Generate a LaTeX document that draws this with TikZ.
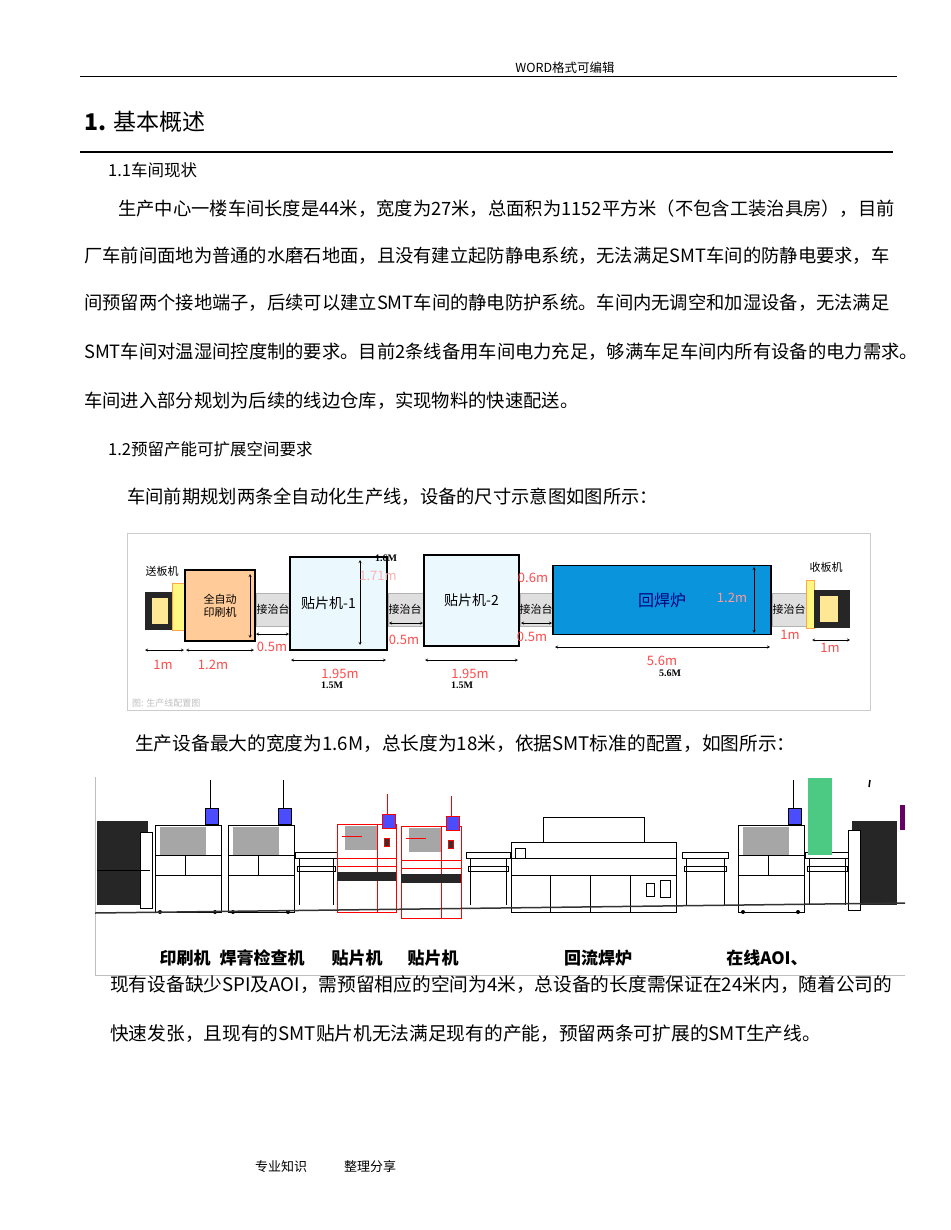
\documentclass[tikz,border=0pt]{standalone}
\usepackage{fontspec}
\setmainfont{Liberation Serif}
\newfontfamily\cjk{Noto Sans CJK SC}
\tikzset{
 body/.style={anchor=west,inner sep=0pt,font=\cjk\fontsize{18.3}{18}\selectfont},
 body2/.style={anchor=west,inner sep=0pt,font=\cjk\fontsize{18.7}{18}\selectfont},
 conv/.style={fill=gray!25,draw=gray!60},
 dim/.style={<->,>=stealth,thin},
 rd/.style={text=red!70,inner sep=0pt,font=\cjk\fontsize{13}{13}\selectfont},
 bk/.style={inner sep=0pt,font=\bfseries\fontsize{10}{10}\selectfont},
 mach/.style={draw=black,fill=white,line width=0.8pt},
 rmach/.style={draw=red,fill=white,line width=0.8pt},
 lab/.style={inner sep=0pt,font=\cjk\bfseries\fontsize{17}{17}\selectfont},
}
\begin{document}
\begin{tikzpicture}[x=1pt,y=-1pt]
\useasboundingbox[fill=white] (0,0) rectangle (950,1230);
% header
\node[inner sep=0pt,font=\cjk\fontsize{12.5}{12}\selectfont] (hdr) at (565,68) {WORD格式可编辑};
\draw[thin] (80,76) -- (897,76);
\node[anchor=west,inner sep=0pt,font=\cjk\fontsize{23}{23}\selectfont] (t1) at (84,122) {\textbf{1.} 基本概述};
\draw[line width=2pt] (80,152) -- (893,152);
\node[anchor=west,inner sep=0pt,font=\cjk\fontsize{16.5}{16}\selectfont] (s11) at (108,170) {1.1车间现状};
\node[body] (p1) at (118,209) {生产中心一楼车间长度是44米，宽度为27米，总面积为1152平方米（不包含工装治具房），目前};
\node[body] (p2) at (84,256) {厂车前间面地为普通的水磨石地面，且没有建立起防静电系统，无法满足SMT车间的防静电要求，车};
\node[body] (p3) at (84,303) {间预留两个接地端子，后续可以建立SMT车间的静电防护系统。车间内无调空和加湿设备，无法满足};
\node[body] (p4) at (84,352) {SMT车间对温湿间控度制的要求。目前2条线备用车间电力充足，够满车足车间内所有设备的电力需求。};
\node[body] (p5) at (84,401) {车间进入部分规划为后续的线边仓库，实现物料的快速配送。};
\node[anchor=west,inner sep=0pt,font=\cjk\fontsize{16.5}{16}\selectfont] (s12) at (108,449) {1.2预留产能可扩展空间要求};
\node[body] (p6) at (127,497) {车间前期规划两条全自动化生产线，设备的尺寸示意图如图所示：};
% ---------- figure 1
\draw[gray!40,fill=white] (127,533) rectangle (870,710);
\node[inner sep=0pt,text=gray!50,font=\cjk\fontsize{9}{9}\selectfont,anchor=west] (cap) at (132,703) {图: 生产线配置图};
% loader
\fill[black!85] (145,592) rectangle (175,630);
\fill[yellow!60!orange!40] (152,598) rectangle (168,624);
\draw[fill=yellow!50,draw=orange!70] (172,583) rectangle (185,630);
\node[inner sep=0pt,font=\cjk\fontsize{11}{11}\selectfont] (ld) at (162,571) {送板机};
% printer
\node[draw,line width=1.2pt,fill=orange!40,minimum width=70pt,minimum height=71pt,inner sep=0pt,align=center,font=\cjk\fontsize{11}{13}\selectfont] (pr) at (220,605.5) {全自动\\印刷机};
\path[conv] (256,593) rectangle (290,626);
\node[inner sep=0pt,font=\cjk\fontsize{11}{11}\selectfont] (c1) at (273,609) {接治台};
\node[draw,line width=1.2pt,fill=cyan!8,minimum width=97pt,minimum height=93pt,inner sep=0pt,font=\cjk\fontsize{14}{14}\selectfont] (m1) at (338.5,603.5) {\hspace*{-20pt}贴片机-1};
\path[conv] (388,593) rectangle (424,626);
\node[inner sep=0pt,font=\cjk\fontsize{11}{11}\selectfont] (c2) at (405,609) {接治台};
\node[draw,line width=1.2pt,fill=cyan!8,minimum width=95pt,minimum height=91pt,inner sep=0pt,font=\cjk\fontsize{14}{14}\selectfont] (m2) at (471.5,600.5) {贴片机-2};
\path[conv] (520,593) rectangle (553,626);
\node[inner sep=0pt,font=\cjk\fontsize{11}{11}\selectfont] (c3) at (536,609) {接治台};
\node[draw,line width=1.2pt,fill=cyan!80!blue,minimum width=218pt,minimum height=69pt,inner sep=0pt,text=blue!50!black,font=\cjk\fontsize{16}{16}\selectfont] (rf) at (662,600) {回焊炉};
\path[conv] (772,593) rectangle (806,626);
\node[inner sep=0pt,font=\cjk\fontsize{11}{11}\selectfont] (c4) at (789,609) {接治台};
\draw[fill=yellow!50,draw=orange!70] (806,580) rectangle (814,628);
\fill[black!85] (814,590) rectangle (850,628);
\fill[yellow!60!orange!40] (820,596) rectangle (838,622);
\node[inner sep=0pt,font=\cjk\fontsize{11}{11}\selectfont] (ul) at (826,567) {收板机};
% dims
\draw[dim] (145,650) -- (184,650); \node[rd] (d1) at (163,665) {1m};
\draw[dim] (186,650) -- (254,650); \node[rd] (d2) at (213,665) {1.2m};
\draw[dim] (250,574) -- (250,638);
\draw[dim] (256,634) -- (289,634); \node[rd] (d3) at (272,647) {0.5m};
\draw[dim] (291,660) -- (386,660); \node[rd] (d4) at (340,674) {1.95m};
\node[bk] (k4) at (332,685) {1.5M};
\draw[dim] (360,560) -- (360,645); \node[rd,text=red!30] (d5) at (378,576) {1.71m};
\node[bk] (k5) at (386,558) {1.6M};
\draw[dim] (389,623) -- (423,623); \node[rd] (d6) at (404,640) {0.5m};
\draw[dim] (425,660) -- (518,660); \node[rd] (d7) at (470,674) {1.95m};
\node[bk] (k7) at (462,685) {1.5M};
\node[rd] (d8) at (533,578) {0.6m};
\draw[dim] (521,623) -- (552,623); \node[rd] (d9) at (532,637) {0.5m};
\draw[dim] (754,567) -- (754,633); \node[rd,text=red!40] (d10) at (732,598) {1.2m};
\draw[dim] (555,647) -- (770,647); \node[rd] (d11) at (662,661) {5.6m};
\node[bk] (k11) at (670,673) {5.6M};
\node[rd] (d12) at (790,635) {1m};
\draw[dim] (812,640) -- (850,640); \node[rd] (d13) at (830,648) {1m};
\node[body2] (p7) at (135,744) {生产设备最大的宽度为1.6M，总长度为18米，依据SMT标准的配置，如图所示：};
% ---------- figure 2
\draw[gray!50] (95,777) -- (95,975) -- (905,975);
\fill[black!85] (97,821) rectangle (148,905);
\draw[mach] (140,832) rectangle (152,908);
\draw (97,870) -- (150,870);
\foreach \x in {155,228,738}{
 \draw[mach] (\x,825) rectangle ++(66,87);
 \fill[gray!70] (\x+5,827) rectangle ++(46,28);
 \draw (\x,855) -- ++(66,0) (\x,875) -- ++(66,0) (\x+30,855) -- ++(0,20);
 \draw[line width=1pt] (\x+55,780) -- ++(0,30);
 \draw[fill=blue!70!white,draw=black] (\x+50,808) rectangle ++(13,16);
 \fill (\x+5,912) circle (2) (\x+60,912) circle (2);
}
\foreach \x/\w in {295/42,466/44,682/46,805/44}{
 \draw[mach] (\x,852) rectangle ++(\w,6);
 \draw[mach] (\x+2,866) rectangle ++(\w-4,5);
 \draw (\x+4,858) -- ++(0,47) (\x+\w-4,858) -- ++(0,47);
}
\foreach \x/\y/\w/\h in {337/824/59/88,401/826/60/92}{
 \draw[rmach] (\x,\y) rectangle ++(\w,\h);
 \fill[gray!70] (\x+8,\y+2) rectangle ++(32,24);
 \draw[red,line width=1pt] (\x+5,\y+12) -- ++(20,0);
 \draw[red] (\x+40,\y) -- ++(0,\h) (\x,\y+34) -- ++(\w,0) (\x,\y+42) -- ++(\w,0);
 \fill[black!85] (\x,\y+48) rectangle ++(\w,9);
 \draw[red,line width=1pt] (\x+50,\y-30) -- ++(0,22);
 \draw[red,fill=blue!70!white] (\x+45,\y-10) rectangle ++(13,14);
 \draw[red,fill=black!80] (\x+47,\y+14) rectangle ++(5,8);
}
\draw[mach] (543,817) rectangle (644,857);
\draw[mach] (511,842) rectangle (676,912);
\draw[mach] (515,848) rectangle (525,858);
\draw (511,858) -- (676,858) (511,875) -- (676,875) (550,875) -- (550,912) (590,875) -- (590,912) (630,875) -- (630,912);
\draw (646,883) rectangle (654,896) (660,880) rectangle (670,897);
\fill[teal!60!green!70] (808,778) rectangle (832,855);
\fill[black!85] (852,821) rectangle (897,905);
\draw[mach] (848,830) rectangle (860,910);
\fill[violet!80!black] (900,805) rectangle (905,830);
\draw[line width=1.5pt] (870,780) -- (869,787);
\draw[line width=1.5pt,black!80] (95,913) -- (905,903);
\node[lab] (l1) at (185,958) {印刷机};
\node[lab] (l2) at (262,958) {焊膏检查机};
\node[lab] (l3) at (357,958) {贴片机};
\node[lab] (l4) at (433,958) {贴片机};
\node[lab] (l5) at (598,958) {回流焊炉};
\node[lab] (l6) at (767,958) {在线AOI、};
\node[body2] (p8) at (110,985) {现有设备缺少SPI及AOI，需预留相应的空间为4米，总设备的长度需保证在24米内，随着公司的};
\node[body2] (p9) at (110,1034) {快速发张，且现有的SMT贴片机无法满足现有的产能，预留两条可扩展的SMT生产线。};
\node[inner sep=0pt,font=\cjk\fontsize{13}{13}\selectfont] (f1) at (281,1167) {专业知识};
\node[inner sep=0pt,font=\cjk\fontsize{13}{13}\selectfont] (f2) at (370,1167) {整理分享};
\end{tikzpicture}
\end{document}
